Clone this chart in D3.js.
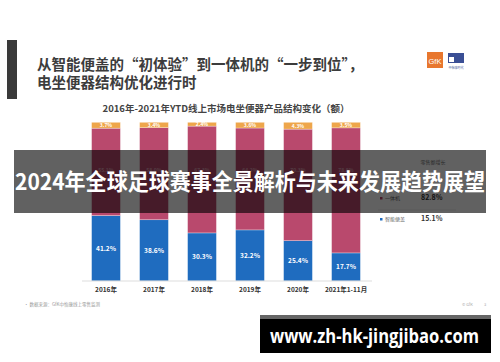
<!DOCTYPE html>
<html>
<head>
<meta charset="utf-8">
<script src="https://cdn.jsdelivr.net/npm/d3@7"></script>
<style>
  html, body { margin: 0; padding: 0; background: #fff; }
  svg { display: block; font-family: "Noto Sans CJK SC", "Noto Sans", sans-serif; }
</style>
</head>
<body>
<div id="root"></div>
<script>
const width = 500,
      height = 362

// chart data
const years = ['2016年', '2017年', '2018年', '2019年', '2020年', '2021年1-11月']
const smartSeat = [41.2, 38.6, 30.3, 32.2, 25.4, 17.7]   // blue, bottom
const allInOne = [55.1, 58.0, 67.3, 64.2, 70.3, 78.8]    // pink, middle
const others = [3.7, 3.4, 2.4, 3.6, 4.3, 3.5]            // orange, top
const legendNames = ['一体机', '智能便盖']
const legendGrowth = ['82.8%', '15.1%']

const colors = { blue: '#1f6cbf', pink: '#b9496d', orange: '#eea64b' }

const svg = d3.select('#root').append('svg')
  .attr('width', width)
  .attr('height', height)

// slide header
svg.append('rect').attr('x', 7).attr('y', 40).attr('width', 10).attr('height', 59).attr('fill', '#3a3a3a')
svg.append('text').attr('x', 37).attr('y', 70)
  .attr('font-size', 14.5).attr('font-weight', 700).attr('fill', '#3c3c3c')
  .text('从智能便盖的“初体验”到一体机的“一步到位”，')
svg.append('text').attr('x', 37).attr('y', 88)
  .attr('font-size', 14.5).attr('font-weight', 700).attr('fill', '#3c3c3c')
  .text('电坐便器结构优化进行时')

// logos
svg.append('rect').attr('x', 427).attr('y', 52).attr('width', 16).attr('height', 16).attr('fill', '#e8772e')
svg.append('text').attr('x', 435).attr('y', 64).attr('text-anchor', 'middle')
  .attr('font-size', 7.5).attr('fill', '#fff').attr('font-family', 'Liberation Sans').text('GfK')
svg.append('rect').attr('x', 448).attr('y', 53).attr('width', 16).attr('height', 10).attr('fill', '#3a4f95')
svg.append('rect').attr('x', 449).attr('y', 57).attr('width', 5).attr('height', 5).attr('fill', '#fff')
svg.append('text').attr('x', 456).attr('y', 69).attr('text-anchor', 'middle')
  .attr('font-size', 3).attr('fill', '#3a4f95').text('中怡康时代')

// chart title
svg.append('text').attr('x', 226).attr('y', 112).attr('text-anchor', 'middle')
  .attr('font-size', 9.5).attr('font-weight', 700).attr('fill', '#444')
  .text('2016年-2021年YTD线上市场电坐便器产品结构变化（额）')

const x = d3.scaleBand()
  .domain(years)
  .range([82, 370])
  .paddingInner(0.4)
  .paddingOuter(0.2)

const y = d3.scaleLinear()
  .domain([0, 100])
  .range([281, 122.3])

const rows = years.map((yr, i) => ({ year: yr, blue: smartSeat[i], pink: allInOne[i], orange: others[i] }))
const stack = d3.stack().keys(['blue', 'pink', 'orange'])(rows)

const layers = svg.append('g').selectAll('g')
  .data(stack)
  .enter().append('g')
  .attr('fill', d => colors[d.key])

layers.selectAll('rect')
  .data(d => d)
  .enter().append('rect')
  .attr('x', d => x(d.data.year))
  .attr('y', d => y(d[1]))
  .attr('width', x.bandwidth())
  .attr('height', d => y(d[0]) - y(d[1]))
  .attr('stroke', '#fff')
  .attr('stroke-opacity', 0.5)
  .attr('stroke-width', 0.6)

// segment labels (pink ones sit under the banner, as in the slide photo)
layers.selectAll('text')
  .data(d => d.map(v => ({ v, key: d.key })))
  .enter().append('text')
  .attr('x', d => x(d.v.data.year) + x.bandwidth() / 2)
  .attr('y', d => d.key === 'pink' ? 172 : (y(d.v[0]) + y(d.v[1])) / 2 + 2.2)
  .attr('text-anchor', 'middle')
  .attr('font-size', d => d.key === 'blue' ? 6.5 : 5)
  .attr('font-weight', 700)
  .attr('fill', d => d.key === 'pink' ? '#d99aae' : '#fff')
  .text(d => d.v.data[d.key].toFixed(1) + '%')

// axis
const xAxis = svg.append('g').attr('transform', 'translate(0,281)')
  .call(d3.axisBottom(x).tickSize(0).tickPadding(6))
xAxis.select('.domain').attr('stroke', '#ddd').attr('d', 'M82,0H372')
xAxis.selectAll('text').attr('font-size', 6.5).attr('font-weight', 700).attr('fill', '#333')
  .attr('font-family', '"Noto Sans CJK SC", sans-serif')

// legend panel
svg.append('text').attr('x', 433).attr('y', 164).attr('text-anchor', 'middle')
  .attr('font-size', 5).attr('fill', '#777').text('零售额增长')
const legY = [200, 221]
const legColors = [colors.pink, colors.blue]
legendNames.forEach((n, i) => {
  svg.append('rect').attr('x', 380).attr('y', legY[i] - 3).attr('width', 2.5).attr('height', 2.5).attr('fill', legColors[i])
  svg.append('text').attr('x', 385).attr('y', legY[i]).attr('font-size', 5).attr('fill', '#666').text(n)
  svg.append('text').attr('x', 421).attr('y', legY[i]).attr('font-size', 7).attr('font-weight', 700)
    .attr('fill', '#333').text(legendGrowth[i])
})
svg.append('line').attr('x1', 378).attr('x2', 456).attr('y1', 210).attr('y2', 210)
  .attr('stroke', '#ccc').attr('stroke-width', 0.5)

// footnote
svg.append('text').attr('x', 24).attr('y', 306).attr('font-size', 4.5).attr('fill', '#999')
  .text('•  数据来源：GfK中怡康线上零售监测')
svg.append('text').attr('x', 462).attr('y', 306).attr('font-size', 4).attr('fill', '#aaa').text('© GfK')
svg.append('text').attr('x', 484).attr('y', 306).attr('font-size', 4).attr('fill', '#aaa').text('3')

// overlay banner
svg.append('rect').attr('x', 14).attr('y', 150).attr('width', 472).attr('height', 63)
  .attr('fill', '#000').attr('fill-opacity', 0.62)
svg.append('text').attr('x', 15).attr('y', 190)
  .attr('font-size', 22.5).attr('font-weight', 700).attr('fill', '#fff')
  .attr('textLength', 470).attr('lengthAdjust', 'spacingAndGlyphs')
  .text('2024年全球足球赛事全景解析与未来发展趋势展望')

// watermark
svg.append('rect').attr('x', 260).attr('y', 315).attr('width', 231).attr('height', 38).attr('fill', '#000')
svg.append('rect').attr('x', 260).attr('y', 315).attr('width', 231).attr('height', 4).attr('fill', '#666')
svg.append('text').attr('x', 270).attr('y', 343)
  .attr('font-size', 19).attr('font-weight', 700).attr('fill', '#fff')
  .attr('font-family', '"Open Sans", "Noto Sans", sans-serif')
  .attr('textLength', 209).attr('lengthAdjust', 'spacingAndGlyphs')
  .text('www.zh-hk-jingjibao.com')
</script>
</body>
</html>
